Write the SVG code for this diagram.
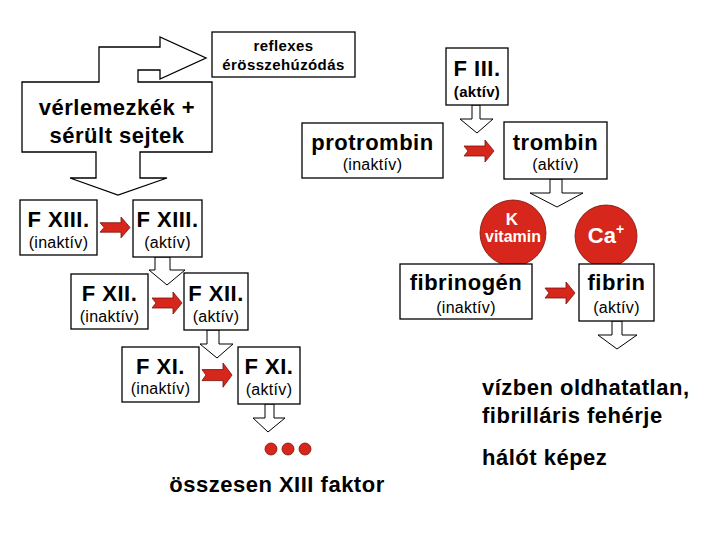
<svg xmlns="http://www.w3.org/2000/svg" xmlns:xlink="http://www.w3.org/1999/xlink" width="720" height="540" viewBox="0 0 720 540">
<style>
text{font-family:"Liberation Sans",Arial,sans-serif;fill:#000;text-anchor:middle}
.big{font-size:22px;font-weight:bold;letter-spacing:0.5px}
.sub{font-size:16px;letter-spacing:0.3px}
.subb{font-size:15px;font-weight:bold;letter-spacing:0.3px}
.sm{font-size:15px;font-weight:bold;letter-spacing:0.4px}
.box{fill:#fff;stroke:#000;stroke-width:1.3}
.hol{fill:#fff;stroke:#000;stroke-width:1}
.red{fill:#d7261b;stroke:#7a1208;stroke-width:0.8}
.wt{fill:#fff;font-weight:bold}
.left{text-anchor:start}
</style>
<defs>
<path id="ra" class="red" d="M0,6 L21,6 L21,0 Q26,6 30,11 Q26,16 21,22 L21,16 L0,16 L4,11 Z"/>
</defs>
<rect width="720" height="540" fill="#fff"/>

<g id="connectors">
<path class="hol" d="M472,105 L480,105 L480,119 L493,119 L477,133 L460,119 L472,119 Z"/>
<path class="hol" d="M550,179 L562,179 L562,193 L583,193 L557,207 L530,193 L550,193 Z"/>
<path class="hol" d="M155,257 L170,257 L170,270 L185,270 L167,285 L149,270 L155,270 Z"/>
<path class="hol" d="M207,330 L219,330 L219,344 L233,344 L217,358 L200,344 L207,344 Z"/>
<path class="hol" d="M265,404 L274,404 L274,418 L285,418 L268,432 L253,418 L265,418 Z"/>
<path class="hol" d="M612,321 L622,321 L622,335 L637,335 L617,349 L598,335 L612,335 Z"/>
<use xlink:href="#ra" transform="translate(100,217) scale(1,0.95)"/>
<use xlink:href="#ra" transform="translate(152,292)"/>
<use xlink:href="#ra" transform="translate(202,363) scale(1,1.1)"/>
<use xlink:href="#ra" transform="translate(464,140)"/>
<use xlink:href="#ra" transform="translate(545,282)"/>
</g>

<g id="verlemezkek">
<path class="box" d="M22,82 L99,82 L99,47 L160,47 L160,37 L206,58 L160,79 L160,70 L138,70 L138,82 L212,82 L212,152 L140,152 L140,178 L167,178 L118,195 L70,178 L96,178 L96,152 L22,152 Z"/>
<text class="big" x="117" y="115">vérlemezkék +</text>
<text class="big" x="117" y="143">sérült sejtek</text>
</g>

<g id="reflexes">
<rect class="box" x="212" y="32" width="143" height="45"/>
<text class="sm" x="283.5" y="51">reflexes</text>
<text class="sm" x="283.5" y="70">érösszehúzódás</text>
</g>

<g id="f3">
<rect class="box" x="446" y="48" width="62" height="57"/>
<text class="big" x="477" y="76">F III.</text>
<text class="subb" x="477" y="97">(aktív)</text>
</g>

<g id="protrombin">
<rect class="box" x="302" y="123" width="141" height="55"/>
<text class="big" x="372.5" y="150">protrombin</text>
<text class="sub" x="372.5" y="170">(inaktív)</text>
</g>

<g id="trombin">
<rect class="box" x="504" y="122" width="103" height="57"/>
<text class="big" x="555.5" y="150">trombin</text>
<text class="sub" x="555.5" y="170">(aktív)</text>
</g>

<g id="kvitamin">
<circle class="red" cx="513" cy="233" r="33"/>
<text class="wt" x="512" y="225" style="font-size:17px">K</text>
<text class="wt" x="513" y="242" style="font-size:16px">vitamin</text>
</g>

<g id="ca">
<circle class="red" cx="606" cy="236" r="31"/>
<text class="wt" x="606" y="243" style="font-size:22px">Ca<tspan style="font-size:14px" dy="-9">+</tspan></text>
</g>

<g id="fibrinogen">
<rect class="box" x="400" y="264" width="132" height="55"/>
<text class="big" x="466" y="290">fibrinogén</text>
<text class="sub" x="466" y="313">(inaktív)</text>
</g>

<g id="fibrin">
<rect class="box" x="579" y="264" width="75" height="57"/>
<text class="big" x="616.5" y="290">fibrin</text>
<text class="sub" x="616.5" y="313">(aktív)</text>
</g>

<g id="f13i">
<rect class="box" x="20" y="200" width="77" height="55"/>
<text class="big" x="58.5" y="227">F XIII.</text>
<text class="sub" x="58.5" y="248">(inaktív)</text>
</g>
<g id="f13a">
<rect class="box" x="133" y="200" width="69" height="57"/>
<text class="big" x="167.5" y="227">F XIII.</text>
<text class="sub" x="167.5" y="248">(aktív)</text>
</g>
<g id="f12i">
<rect class="box" x="71" y="274" width="77" height="55"/>
<text class="big" x="109.5" y="301">F XII.</text>
<text class="sub" x="109.5" y="322">(inaktív)</text>
</g>
<g id="f12a">
<rect class="box" x="184" y="273" width="64" height="57"/>
<text class="big" x="216" y="301">F XII.</text>
<text class="sub" x="216" y="322">(aktív)</text>
</g>
<g id="f11i">
<rect class="box" x="122" y="347" width="77" height="55"/>
<text class="big" x="160.5" y="374">F XI.</text>
<text class="sub" x="160.5" y="394">(inaktív)</text>
</g>
<g id="f11a">
<rect class="box" x="238" y="347" width="62" height="57"/>
<text class="big" x="269" y="374">F XI.</text>
<text class="sub" x="269" y="395">(aktív)</text>
</g>

<g id="dots">
<circle class="red" cx="271" cy="449" r="6"/>
<circle class="red" cx="288" cy="449" r="6"/>
<circle class="red" cx="305" cy="449" r="6"/>
</g>

<g id="osszesen">
<text class="big" x="277" y="492">összesen XIII faktor</text>
</g>

<g id="notes">
<text class="big left" x="482" y="395">vízben oldhatatlan,</text>
<text class="big left" x="482" y="423">fibrilláris fehérje</text>
<text class="big left" x="482" y="465">hálót képez</text>
</g>
</svg>
